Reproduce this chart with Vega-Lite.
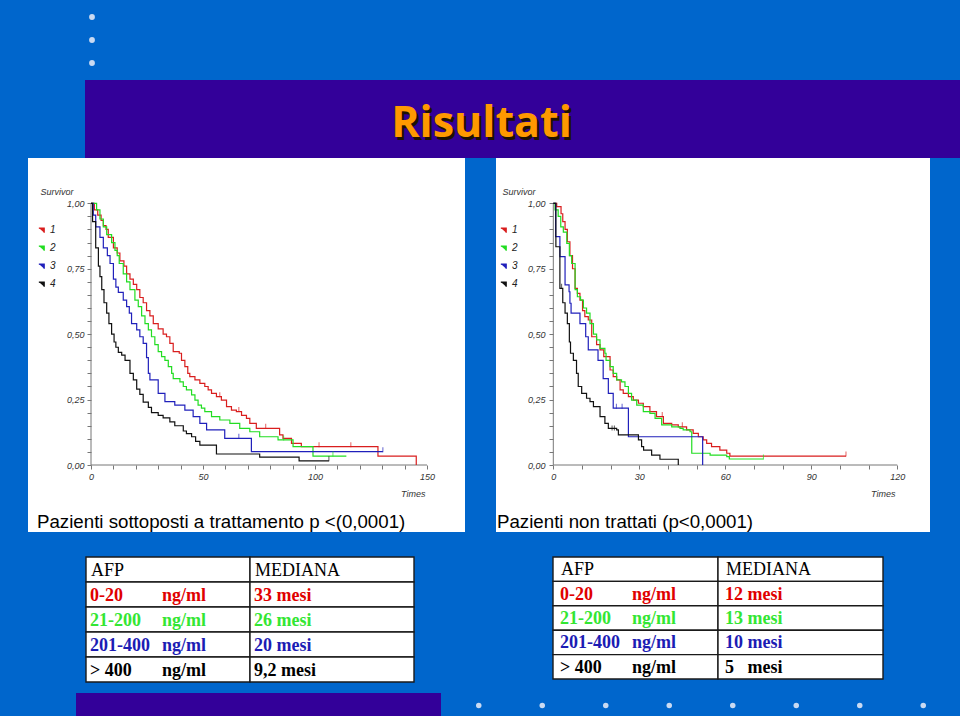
{
  "$schema": "https://vega.github.io/schema/vega-lite/v6.json",
  "background": "#0066CC",
  "padding": 0,
  "config": {
    "view": {"stroke": null},
    "concat": {"spacing": 0},
    "axis": {"grid": false}
  },
  "datasets": {
    "bullets": [{"i": 1}, {"i": 2}, {"i": 3}],
    "dots": [{"i": 1}, {"i": 2}, {"i": 3}, {"i": 4}, {"i": 5}, {"i": 6}, {"i": 7}, {"i": 8}],
    "heading": [{"t": "Risultati"}],
    "axL": [{"t": 0, "t2": 150, "s": 0, "s2": 0}, {"t": 0, "t2": 0, "s": 0, "s2": 1}],
    "axR": [{"t": 0, "t2": 120, "s": 0, "s2": 0}, {"t": 0, "t2": 0, "s": 0, "s2": 1}],
    "kmL": [
      {"g":"1","t":0,"s":1},{"g":"1","t":1.5,"s":0.975},{"g":"1","t":3,"s":0.955},{"g":"1","t":4.5,"s":0.935},{"g":"1","t":5.5,"s":0.915},{"g":"1","t":6.7,"s":0.9},{"g":"1","t":7.7,"s":0.87},{"g":"1","t":10,"s":0.83},{"g":"1","t":11.7,"s":0.81},{"g":"1","t":12.9,"s":0.78},{"g":"1","t":14.7,"s":0.76},{"g":"1","t":15.9,"s":0.73},{"g":"1","t":17.4,"s":0.71},{"g":"1","t":18.9,"s":0.69},{"g":"1","t":20.4,"s":0.67},{"g":"1","t":21.8,"s":0.64},{"g":"1","t":23.3,"s":0.62},{"g":"1","t":24.8,"s":0.59},{"g":"1","t":26.3,"s":0.57},{"g":"1","t":27.8,"s":0.54},{"g":"1","t":30,"s":0.52},{"g":"1","t":32.2,"s":0.5},{"g":"1","t":33.7,"s":0.49},{"g":"1","t":35.2,"s":0.465},{"g":"1","t":36.7,"s":0.433},{"g":"1","t":39.4,"s":0.427},{"g":"1","t":40.4,"s":0.4},{"g":"1","t":41.9,"s":0.376},{"g":"1","t":43.2,"s":0.35},{"g":"1","t":44.1,"s":0.338},{"g":"1","t":46.4,"s":0.325},{"g":"1","t":48.6,"s":0.312},{"g":"1","t":50.8,"s":0.3},{"g":"1","t":52.3,"s":0.287},{"g":"1","t":53.8,"s":0.274},{"g":"1","t":56,"s":0.261},{"g":"1","t":58.2,"s":0.248},{"g":"1","t":60.5,"s":0.223},{"g":"1","t":62.7,"s":0.21},{"g":"1","t":64.9,"s":0.204},{"g":"1","t":67.2,"s":0.19},{"g":"1","t":69.4,"s":0.178},{"g":"1","t":70.9,"s":0.159},{"g":"1","t":73.8,"s":0.14},{"g":"1","t":84.2,"s":0.115},{"g":"1","t":85.7,"s":0.102},{"g":"1","t":89.5,"s":0.083},{"g":"1","t":93.9,"s":0.07},{"g":"1","t":128.1,"s":0.034},{"g":"1","t":145.2,"s":0},
      {"g":"2","t":0,"s":1},{"g":"2","t":2.5,"s":0.975},{"g":"2","t":4,"s":0.94},{"g":"2","t":5.5,"s":0.91},{"g":"2","t":7,"s":0.88},{"g":"2","t":9.2,"s":0.85},{"g":"2","t":10.7,"s":0.82},{"g":"2","t":11.7,"s":0.8},{"g":"2","t":12.6,"s":0.77},{"g":"2","t":14.4,"s":0.73},{"g":"2","t":15.9,"s":0.7},{"g":"2","t":17.4,"s":0.67},{"g":"2","t":19.6,"s":0.63},{"g":"2","t":21.1,"s":0.605},{"g":"2","t":22.6,"s":0.57},{"g":"2","t":24.1,"s":0.54},{"g":"2","t":25.6,"s":0.516},{"g":"2","t":27,"s":0.49},{"g":"2","t":28.5,"s":0.46},{"g":"2","t":30,"s":0.433},{"g":"2","t":31.5,"s":0.414},{"g":"2","t":33,"s":0.4},{"g":"2","t":34.5,"s":0.376},{"g":"2","t":36,"s":0.35},{"g":"2","t":36.7,"s":0.33},{"g":"2","t":39.7,"s":0.318},{"g":"2","t":41.2,"s":0.3},{"g":"2","t":42.6,"s":0.287},{"g":"2","t":44.9,"s":0.268},{"g":"2","t":46.4,"s":0.248},{"g":"2","t":47.8,"s":0.229},{"g":"2","t":49.3,"s":0.217},{"g":"2","t":50.8,"s":0.204},{"g":"2","t":53.8,"s":0.185},{"g":"2","t":57.5,"s":0.172},{"g":"2","t":62,"s":0.159},{"g":"2","t":66.4,"s":0.14},{"g":"2","t":70.9,"s":0.127},{"g":"2","t":75.3,"s":0.108},{"g":"2","t":83.5,"s":0.096},{"g":"2","t":90.2,"s":0.07},{"g":"2","t":99.1,"s":0.034},{"g":"2","t":114,"s":0.034},
      {"g":"3","t":0,"s":1},{"g":"3","t":1,"s":0.955},{"g":"3","t":2.1,"s":0.91},{"g":"3","t":4,"s":0.87},{"g":"3","t":5.5,"s":0.83},{"g":"3","t":7.3,"s":0.8},{"g":"3","t":8.5,"s":0.77},{"g":"3","t":10,"s":0.71},{"g":"3","t":11.1,"s":0.68},{"g":"3","t":12.2,"s":0.66},{"g":"3","t":14.4,"s":0.63},{"g":"3","t":15.9,"s":0.605},{"g":"3","t":17.1,"s":0.58},{"g":"3","t":18.1,"s":0.54},{"g":"3","t":20.4,"s":0.516},{"g":"3","t":21.8,"s":0.49},{"g":"3","t":23.3,"s":0.465},{"g":"3","t":24.8,"s":0.41},{"g":"3","t":25.6,"s":0.35},{"g":"3","t":26.3,"s":0.325},{"g":"3","t":30,"s":0.274},{"g":"3","t":33,"s":0.242},{"g":"3","t":37.4,"s":0.229},{"g":"3","t":41.9,"s":0.21},{"g":"3","t":45.6,"s":0.185},{"g":"3","t":48.6,"s":0.159},{"g":"3","t":51.6,"s":0.134},{"g":"3","t":59.7,"s":0.102},{"g":"3","t":71.6,"s":0.051},{"g":"3","t":130.3,"s":0.051},
      {"g":"4","t":0,"s":1},{"g":"4","t":0.7,"s":0.93},{"g":"4","t":2.1,"s":0.83},{"g":"4","t":3.3,"s":0.76},{"g":"4","t":4,"s":0.72},{"g":"4","t":4.8,"s":0.67},{"g":"4","t":5.8,"s":0.62},{"g":"4","t":7,"s":0.58},{"g":"4","t":8,"s":0.54},{"g":"4","t":9.2,"s":0.5},{"g":"4","t":10.3,"s":0.47},{"g":"4","t":11.1,"s":0.45},{"g":"4","t":12.2,"s":0.43},{"g":"4","t":13.7,"s":0.42},{"g":"4","t":15.2,"s":0.4},{"g":"4","t":17.4,"s":0.35},{"g":"4","t":18.9,"s":0.325},{"g":"4","t":20.4,"s":0.29},{"g":"4","t":21.8,"s":0.27},{"g":"4","t":23.3,"s":0.24},{"g":"4","t":25.6,"s":0.22},{"g":"4","t":27,"s":0.2},{"g":"4","t":30,"s":0.19},{"g":"4","t":32.2,"s":0.18},{"g":"4","t":35.2,"s":0.165},{"g":"4","t":37.4,"s":0.15},{"g":"4","t":41.2,"s":0.13},{"g":"4","t":42.6,"s":0.12},{"g":"4","t":44.9,"s":0.108},{"g":"4","t":46.7,"s":0.09},{"g":"4","t":48.6,"s":0.076},{"g":"4","t":56,"s":0.042},{"g":"4","t":75.3,"s":0.03},{"g":"4","t":92.9,"s":0.016},{"g":"4","t":106.2,"s":0.016}
    ],
    "kmR": [
      {"g":"1","t":0,"s":1},{"g":"1","t":1.2,"s":0.987},{"g":"1","t":2.7,"s":0.96},{"g":"1","t":3.3,"s":0.93},{"g":"1","t":4.1,"s":0.9},{"g":"1","t":4.9,"s":0.853},{"g":"1","t":5.8,"s":0.8},{"g":"1","t":6.7,"s":0.75},{"g":"1","t":7.6,"s":0.675},{"g":"1","t":8.4,"s":0.656},{"g":"1","t":9.3,"s":0.63},{"g":"1","t":10.2,"s":0.59},{"g":"1","t":11,"s":0.567},{"g":"1","t":12.2,"s":0.554},{"g":"1","t":13.4,"s":0.49},{"g":"1","t":15.1,"s":0.46},{"g":"1","t":16.3,"s":0.44},{"g":"1","t":17.6,"s":0.414},{"g":"1","t":19.8,"s":0.363},{"g":"1","t":20.9,"s":0.338},{"g":"1","t":22.1,"s":0.325},{"g":"1","t":23.3,"s":0.287},{"g":"1","t":24.4,"s":0.274},{"g":"1","t":26.2,"s":0.261},{"g":"1","t":27.9,"s":0.248},{"g":"1","t":29.7,"s":0.236},{"g":"1","t":31.4,"s":0.223},{"g":"1","t":33.7,"s":0.204},{"g":"1","t":36,"s":0.185},{"g":"1","t":38.4,"s":0.159},{"g":"1","t":41.3,"s":0.153},{"g":"1","t":43.6,"s":0.146},{"g":"1","t":46.5,"s":0.134},{"g":"1","t":48.8,"s":0.121},{"g":"1","t":50.6,"s":0.108},{"g":"1","t":52.3,"s":0.096},{"g":"1","t":53.5,"s":0.083},{"g":"1","t":55.2,"s":0.07},{"g":"1","t":58.1,"s":0.057},{"g":"1","t":60.5,"s":0.045},{"g":"1","t":61.6,"s":0.034},{"g":"1","t":102.1,"s":0.034},
      {"g":"2","t":0,"s":1},{"g":"2","t":0.6,"s":0.975},{"g":"2","t":1.7,"s":0.95},{"g":"2","t":2.6,"s":0.91},{"g":"2","t":3.5,"s":0.89},{"g":"2","t":4.7,"s":0.847},{"g":"2","t":5.6,"s":0.8},{"g":"2","t":6.4,"s":0.77},{"g":"2","t":7.6,"s":0.67},{"g":"2","t":8.4,"s":0.643},{"g":"2","t":9.5,"s":0.63},{"g":"2","t":10.5,"s":0.6},{"g":"2","t":11.6,"s":0.58},{"g":"2","t":12.8,"s":0.54},{"g":"2","t":14,"s":0.5},{"g":"2","t":15.1,"s":0.478},{"g":"2","t":16.3,"s":0.446},{"g":"2","t":18,"s":0.427},{"g":"2","t":18.4,"s":0.4},{"g":"2","t":19.8,"s":0.376},{"g":"2","t":20.9,"s":0.35},{"g":"2","t":22.1,"s":0.325},{"g":"2","t":23.8,"s":0.318},{"g":"2","t":25,"s":0.3},{"g":"2","t":26.2,"s":0.274},{"g":"2","t":27.3,"s":0.248},{"g":"2","t":29.1,"s":0.229},{"g":"2","t":31.4,"s":0.204},{"g":"2","t":33.7,"s":0.197},{"g":"2","t":35.5,"s":0.178},{"g":"2","t":37.8,"s":0.153},{"g":"2","t":41.3,"s":0.146},{"g":"2","t":44.2,"s":0.14},{"g":"2","t":45.3,"s":0.134},{"g":"2","t":47.7,"s":0.127},{"g":"2","t":48.3,"s":0.045},{"g":"2","t":54.7,"s":0.038},{"g":"2","t":60.5,"s":0.032},{"g":"2","t":61.4,"s":0.023},{"g":"2","t":73.3,"s":0.023},
      {"g":"3","t":0,"s":1},{"g":"3","t":0.8,"s":0.873},{"g":"3","t":2.3,"s":0.796},{"g":"3","t":4.1,"s":0.688},{"g":"3","t":5.5,"s":0.662},{"g":"3","t":5.8,"s":0.618},{"g":"3","t":6.2,"s":0.58},{"g":"3","t":9.3,"s":0.54},{"g":"3","t":11.3,"s":0.49},{"g":"3","t":12.2,"s":0.44},{"g":"3","t":15.6,"s":0.4},{"g":"3","t":17.4,"s":0.33},{"g":"3","t":19.2,"s":0.274},{"g":"3","t":20.9,"s":0.217},{"g":"3","t":26.2,"s":0.108},{"g":"3","t":52.1,"s":0},
      {"g":"4","t":0,"s":1},{"g":"4","t":0.9,"s":0.834},{"g":"4","t":2.3,"s":0.675},{"g":"4","t":3.3,"s":0.62},{"g":"4","t":4.1,"s":0.58},{"g":"4","t":4.9,"s":0.54},{"g":"4","t":5.6,"s":0.47},{"g":"4","t":6,"s":0.427},{"g":"4","t":7,"s":0.4},{"g":"4","t":8.1,"s":0.35},{"g":"4","t":8.7,"s":0.3},{"g":"4","t":9.9,"s":0.274},{"g":"4","t":11.6,"s":0.255},{"g":"4","t":12.8,"s":0.242},{"g":"4","t":14,"s":0.223},{"g":"4","t":16.3,"s":0.185},{"g":"4","t":18,"s":0.159},{"g":"4","t":19.2,"s":0.14},{"g":"4","t":22.1,"s":0.134},{"g":"4","t":22.7,"s":0.115},{"g":"4","t":29.7,"s":0.096},{"g":"4","t":30.8,"s":0.07},{"g":"4","t":31.5,"s":0.057},{"g":"4","t":34.3,"s":0.038},{"g":"4","t":37.2,"s":0.022},{"g":"4","t":43.6,"s":0}
    ],
    "cL": [
      {"g":"1","t":57.5,"s":0.261},{"g":"1","t":66,"s":0.204},{"g":"1","t":78,"s":0.14},{"g":"1","t":101.8,"s":0.07},{"g":"1","t":116,"s":0.07},
      {"g":"2","t":86,"s":0.096},{"g":"2","t":108,"s":0.034},
      {"g":"3","t":66,"s":0.102},{"g":"3","t":130.3,"s":0.051},
      {"g":"4","t":106.2,"s":0.016}
    ],
    "cR": [
      {"g":"1","t":38,"s":0.185},{"g":"1","t":45,"s":0.146},{"g":"1","t":102.1,"s":0.034},
      {"g":"2","t":73.3,"s":0.023},
      {"g":"3","t":22,"s":0.217},{"g":"3","t":24,"s":0.217},
      {"g":"4","t":2.9,"s":0.675},{"g":"4","t":20.5,"s":0.134},{"g":"4","t":21.3,"s":0.134}
    ],
    "tabL": [
      {"r":0,"col":"A","t":"AFP","u":"","gc":"h"},{"r":0,"col":"M","t":"MEDIANA","u":"","gc":"h"},
      {"r":1,"col":"A","t":"0-20","u":"ng/ml","gc":"1"},{"r":1,"col":"M","t":"33 mesi","u":"","gc":"1"},
      {"r":2,"col":"A","t":"21-200","u":"ng/ml","gc":"2"},{"r":2,"col":"M","t":"26 mesi","u":"","gc":"2"},
      {"r":3,"col":"A","t":"201-400","u":"ng/ml","gc":"3"},{"r":3,"col":"M","t":"20 mesi","u":"","gc":"3"},
      {"r":4,"col":"A","t":"> 400","u":"ng/ml","gc":"4"},{"r":4,"col":"M","t":"9,2 mesi","u":"","gc":"4"}
    ],
    "tabR": [
      {"r":0,"col":"A","t":"AFP","u":"","gc":"h"},{"r":0,"col":"M","t":"MEDIANA","u":"","gc":"h"},
      {"r":1,"col":"A","t":"0-20","u":"ng/ml","gc":"1"},{"r":1,"col":"M","t":"12 mesi","u":"","gc":"1"},
      {"r":2,"col":"A","t":"21-200","u":"ng/ml","gc":"2"},{"r":2,"col":"M","t":"13 mesi","u":"","gc":"2"},
      {"r":3,"col":"A","t":"201-400","u":"ng/ml","gc":"3"},{"r":3,"col":"M","t":"10 mesi","u":"","gc":"3"},
      {"r":4,"col":"A","t":"> 400","u":"ng/ml","gc":"4"},{"r":4,"col":"M","t":"5\u00a0\u00a0\u00a0mesi","u":"","gc":"4"}
    ]
  },
  "resolve": {"scale": {"x": "independent", "y": "independent", "color": "independent"}, "legend": {"color": "independent"}},
  "vconcat": [
    {
      "resolve": {"scale": {"x": "independent", "y": "independent"}},
      "hconcat": [
        {"width": 85, "height": 80, "data": {"values": []}, "mark": "point"},
        {"width": 14, "height": 80, "data": {"name": "bullets"},
         "mark": {"type": "point", "filled": true, "size": 34, "color": "#C9DAF2", "opacity": 1},
         "encoding": {"y": {"field": "i", "type": "ordinal", "scale": {"type": "point", "padding": 0.74}, "axis": null}}}
      ]
    },
    {
      "hconcat": [
        {"width": 85, "height": 78, "data": {"values": []}, "mark": "point"},
        {"width": 875, "height": 78, "view": {"fill": "#330099", "stroke": null},
         "data": {"name": "heading"},
         "layer": [
           {"mark": {"type": "text", "font": "Open Sans", "fontWeight": "bold", "fontSize": 43, "color": "#1E1200", "dx": -38.5, "dy": 7.5, "baseline": "middle", "align": "center"},
            "encoding": {"text": {"field": "t"}}},
           {"mark": {"type": "text", "font": "Open Sans", "fontWeight": "bold", "fontSize": 43, "color": "#FF9900", "dx": -41, "dy": 5, "baseline": "middle", "align": "center"},
            "encoding": {"text": {"field": "t"}}}
         ]}
      ]
    },
    {
      "resolve": {"scale": {"x": "independent", "y": "independent", "color": "independent"}, "legend": {"color": "independent"}},
      "hconcat": [
        {"width": 28, "height": 374, "data": {"values": []}, "mark": "point"},
        {
          "width": 437, "height": 374,
          "view": {"fill": "white", "stroke": null},
          "title": {"text": "Pazienti sottoposti a trattamento p <(0,0001)", "orient": "bottom", "anchor": "start", "frame": "group", "offset": -4, "dx": 9, "baseline": "alphabetic", "font": "Liberation Sans", "fontSize": 18.7, "fontWeight": "normal", "color": "#000"},
          "encoding": {
            "x": {"field": "t", "type": "quantitative",
                  "scale": {"domain": [-28.125, 166.96], "nice": false, "zero": false},
                  "axis": {"values": [0,10,20,30,40,50,60,70,80,90,100,110,120,130,140,150],
                           "labelExpr": "datum.value % 50 === 0 ? datum.label : ''",
                           "offset": -67, "domain": false, "grid": false, "tickSize": 4, "tickColor": "#777", "tickWidth": 1,
                           "labelFont": "Liberation Sans", "labelFontStyle": "italic", "labelFontSize": 9, "labelColor": "#333", "labelPadding": 3, "labelFlush": false, "labelOverlap": false,
                           "title": "Times", "titleX": 397, "titleY": 28, "titleAlign": "right", "titleBaseline": "middle", "titleFont": "Liberation Sans", "titleFontStyle": "italic", "titleFontWeight": "normal", "titleFontSize": 9, "titleColor": "#333"}},
            "y": {"field": "s", "type": "quantitative",
                  "scale": {"domain": [-0.256, 1.1731], "nice": false, "zero": false},
                  "axis": {"values": [0,0.05,0.1,0.15,0.2,0.25,0.3,0.35,0.4,0.45,0.5,0.55,0.6,0.65,0.7,0.75,0.8,0.85,0.9,0.95,1],
                           "labelExpr": "round(datum.value*100) % 25 === 0 ? replace(format(datum.value, '.2f'), '.', ',') : ''",
                           "offset": -63, "domain": false, "grid": false, "tickSize": 4, "tickColor": "#777", "tickWidth": 1,
                           "labelFont": "Liberation Sans", "labelFontStyle": "italic", "labelFontSize": 9, "labelColor": "#333", "labelPadding": 3, "labelFlush": false, "labelOverlap": false,
                           "title": "Survivor", "titleAngle": 0, "titleX": -51, "titleY": 33, "titleAlign": "left", "titleBaseline": "middle", "titleFont": "Liberation Sans", "titleFontStyle": "italic", "titleFontWeight": "normal", "titleFontSize": 9, "titleColor": "#333"}}
          },
          "layer": [
            {"data": {"name": "axL"}, "mark": {"type": "rule", "color": "#777", "strokeWidth": 1},
             "encoding": {"x2": {"field": "t2"}, "y2": {"field": "s2"}}},
            {"data": {"name": "kmL"}, "mark": {"type": "line", "interpolate": "step-after", "strokeWidth": 1.2},
             "encoding": {"color": {"field": "g", "type": "nominal",
                                    "scale": {"domain": ["1","2","3","4"], "range": ["#D91E1E", "#22DD22", "#2020BB", "#111111"]},
                                    "legend": {"orient": "none", "legendX": 9, "legendY": 67, "title": null, "padding": 0,
                                               "symbolType": "M -1 -0.6 L 0.7 -0.6 L 0.7 0.9", "symbolSize": 40, "symbolStrokeWidth": 1.2,
                                               "labelFont": "Liberation Sans", "labelFontStyle": "italic", "labelFontSize": 10, "labelColor": "#222", "labelOffset": 3, "rowPadding": 7,
                                               "encode": {"symbols": {"update": {"fill": {"value": "transparent"}, "strokeWidth": {"value": 1.2}}}}}}}},
            {"data": {"name": "cL"}, "mark": {"type": "tick", "orient": "vertical", "size": 5, "thickness": 1, "yOffset": -2},
             "encoding": {"color": {"field": "g", "type": "nominal"}}}
          ]
        },
        {"width": 31, "height": 374, "data": {"values": []}, "mark": "point"},
        {
          "width": 434, "height": 374,
          "view": {"fill": "white", "stroke": null},
          "title": {"text": "Pazienti non trattati (p<0,0001)", "orient": "bottom", "anchor": "start", "frame": "group", "offset": -4, "dx": 1, "baseline": "alphabetic", "font": "Liberation Sans", "fontSize": 18.7, "fontWeight": "normal", "color": "#000"},
          "encoding": {
            "x": {"field": "t", "type": "quantitative",
                  "scale": {"domain": [-19.99, 131.41], "nice": false, "zero": false},
                  "axis": {"values": [0,10,20,30,40,50,60,70,80,90,100,110,120],
                           "labelExpr": "datum.value % 30 === 0 ? datum.label : ''",
                           "offset": -67, "domain": false, "grid": false, "tickSize": 4, "tickColor": "#777", "tickWidth": 1,
                           "labelFont": "Liberation Sans", "labelFontStyle": "italic", "labelFontSize": 9, "labelColor": "#333", "labelPadding": 3, "labelFlush": false, "labelOverlap": false,
                           "title": "Times", "titleX": 399, "titleY": 28, "titleAlign": "right", "titleBaseline": "middle", "titleFont": "Liberation Sans", "titleFontStyle": "italic", "titleFontWeight": "normal", "titleFontSize": 9, "titleColor": "#333"}},
            "y": {"field": "s", "type": "quantitative",
                  "scale": {"domain": [-0.256, 1.1731], "nice": false, "zero": false},
                  "axis": {"values": [0,0.05,0.1,0.15,0.2,0.25,0.3,0.35,0.4,0.45,0.5,0.55,0.6,0.65,0.7,0.75,0.8,0.85,0.9,0.95,1],
                           "labelExpr": "round(datum.value*100) % 25 === 0 ? replace(format(datum.value, '.2f'), '.', ',') : ''",
                           "offset": -57, "domain": false, "grid": false, "tickSize": 4, "tickColor": "#777", "tickWidth": 1,
                           "labelFont": "Liberation Sans", "labelFontStyle": "italic", "labelFontSize": 9, "labelColor": "#333", "labelPadding": 4, "labelFlush": false, "labelOverlap": false,
                           "title": "Survivor", "titleAngle": 0, "titleX": -51, "titleY": 33, "titleAlign": "left", "titleBaseline": "middle", "titleFont": "Liberation Sans", "titleFontStyle": "italic", "titleFontWeight": "normal", "titleFontSize": 9, "titleColor": "#333"}}
          },
          "layer": [
            {"data": {"name": "axR"}, "mark": {"type": "rule", "color": "#777", "strokeWidth": 1},
             "encoding": {"x2": {"field": "t2"}, "y2": {"field": "s2"}}},
            {"data": {"name": "kmR"}, "mark": {"type": "line", "interpolate": "step-after", "strokeWidth": 1.2},
             "encoding": {"color": {"field": "g", "type": "nominal",
                                    "scale": {"domain": ["1","2","3","4"], "range": ["#D91E1E", "#22DD22", "#2020BB", "#111111"]},
                                    "legend": {"orient": "none", "legendX": 3, "legendY": 67, "title": null, "padding": 0,
                                               "symbolType": "M -1 -0.6 L 0.7 -0.6 L 0.7 0.9", "symbolSize": 40, "symbolStrokeWidth": 1.2,
                                               "labelFont": "Liberation Sans", "labelFontStyle": "italic", "labelFontSize": 10, "labelColor": "#222", "labelOffset": 3, "rowPadding": 7,
                                               "encode": {"symbols": {"update": {"fill": {"value": "transparent"}, "strokeWidth": {"value": 1.2}}}}}}}},
            {"data": {"name": "cR"}, "mark": {"type": "tick", "orient": "vertical", "size": 5, "thickness": 1, "yOffset": -2},
             "encoding": {"color": {"field": "g", "type": "nominal"}}}
          ]
        }
      ]
    },
    {"width": 10, "height": 24, "data": {"values": []}, "mark": "point"},
    {
      "resolve": {"scale": {"x": "independent", "y": "independent", "color": "independent"}},
      "hconcat": [
        {"width": 85, "height": 125, "data": {"values": []}, "mark": "point"},
        {
          "width": 328, "height": 125,
          "data": {"name": "tabL"},
          "encoding": {
            "x": {"field": "col", "type": "nominal", "sort": null, "scale": {"paddingInner": 0, "paddingOuter": 0}, "axis": null},
            "y": {"field": "r", "type": "ordinal", "scale": {"paddingInner": 0, "paddingOuter": 0}, "axis": null}
          },
          "layer": [
            {"mark": {"type": "rect", "fill": "white", "stroke": "#1a1a1a", "strokeWidth": 1.4}},
            {"transform": [{"filter": "datum.gc === 'h'"}],
             "mark": {"type": "text", "align": "left", "baseline": "middle", "font": "Liberation Serif", "fontSize": 18, "dx": 5, "dy": 1, "color": "#000"},
             "encoding": {"x": {"field": "col", "type": "nominal", "sort": null, "bandPosition": 0}, "text": {"field": "t"}}},
            {"transform": [{"filter": "datum.gc !== 'h'"}],
             "mark": {"type": "text", "align": "left", "baseline": "middle", "font": "Liberation Serif", "fontWeight": "bold", "fontSize": 18, "dx": 4, "dy": 1},
             "encoding": {"x": {"field": "col", "type": "nominal", "sort": null, "bandPosition": 0}, "text": {"field": "t"},
                          "color": {"field": "gc", "type": "nominal", "scale": {"domain": ["1","2","3","4"], "range": ["#E00000", "#33E633", "#1C1CB4", "#000000"]}, "legend": null}}},
            {"transform": [{"filter": "datum.u !== ''"}],
             "mark": {"type": "text", "align": "left", "baseline": "middle", "font": "Liberation Serif", "fontWeight": "bold", "fontSize": 18, "dx": 76, "dy": 1},
             "encoding": {"x": {"field": "col", "type": "nominal", "sort": null, "bandPosition": 0}, "text": {"field": "u"},
                          "color": {"field": "gc", "type": "nominal", "legend": null}}}
          ]
        },
        {"width": 137, "height": 125, "data": {"values": []}, "mark": "point"},
        {
          "width": 330, "height": 122,
          "data": {"name": "tabR"},
          "encoding": {
            "x": {"field": "col", "type": "nominal", "sort": null, "scale": {"paddingInner": 0, "paddingOuter": 0}, "axis": null},
            "y": {"field": "r", "type": "ordinal", "scale": {"paddingInner": 0, "paddingOuter": 0}, "axis": null}
          },
          "layer": [
            {"mark": {"type": "rect", "fill": "white", "stroke": "#1a1a1a", "strokeWidth": 1.4}},
            {"transform": [{"filter": "datum.gc === 'h'"}],
             "mark": {"type": "text", "align": "left", "baseline": "middle", "font": "Liberation Serif", "fontSize": 18, "dx": 8, "dy": 1, "color": "#000"},
             "encoding": {"x": {"field": "col", "type": "nominal", "sort": null, "bandPosition": 0}, "text": {"field": "t"}}},
            {"transform": [{"filter": "datum.gc !== 'h'"}],
             "mark": {"type": "text", "align": "left", "baseline": "middle", "font": "Liberation Serif", "fontWeight": "bold", "fontSize": 18, "dx": 7, "dy": 1},
             "encoding": {"x": {"field": "col", "type": "nominal", "sort": null, "bandPosition": 0}, "text": {"field": "t"},
                          "color": {"field": "gc", "type": "nominal", "scale": {"domain": ["1","2","3","4"], "range": ["#E00000", "#33E633", "#1C1CB4", "#000000"]}, "legend": null}}},
            {"transform": [{"filter": "datum.u !== ''"}],
             "mark": {"type": "text", "align": "left", "baseline": "middle", "font": "Liberation Serif", "fontWeight": "bold", "fontSize": 18, "dx": 79, "dy": 1},
             "encoding": {"x": {"field": "col", "type": "nominal", "sort": null, "bandPosition": 0}, "text": {"field": "u"},
                          "color": {"field": "gc", "type": "nominal", "legend": null}}}
          ]
        }
      ]
    },
    {"width": 10, "height": 10, "data": {"values": []}, "mark": "point"},
    {
      "resolve": {"scale": {"x": "independent", "y": "independent"}},
      "hconcat": [
        {"width": 76, "height": 25, "data": {"values": []}, "mark": "point"},
        {"width": 365, "height": 25, "view": {"fill": "#330099", "stroke": null}, "data": {"values": []}, "mark": "point"},
        {"width": 6, "height": 25, "data": {"values": []}, "mark": "point"},
        {"width": 508, "height": 25, "data": {"name": "dots"},
         "mark": {"type": "point", "filled": true, "size": 30, "color": "#C9DAF2", "opacity": 1},
         "encoding": {"x": {"field": "i", "type": "ordinal", "scale": {"type": "point", "padding": 0.5}, "axis": null}}}
      ]
    }
  ]
}
